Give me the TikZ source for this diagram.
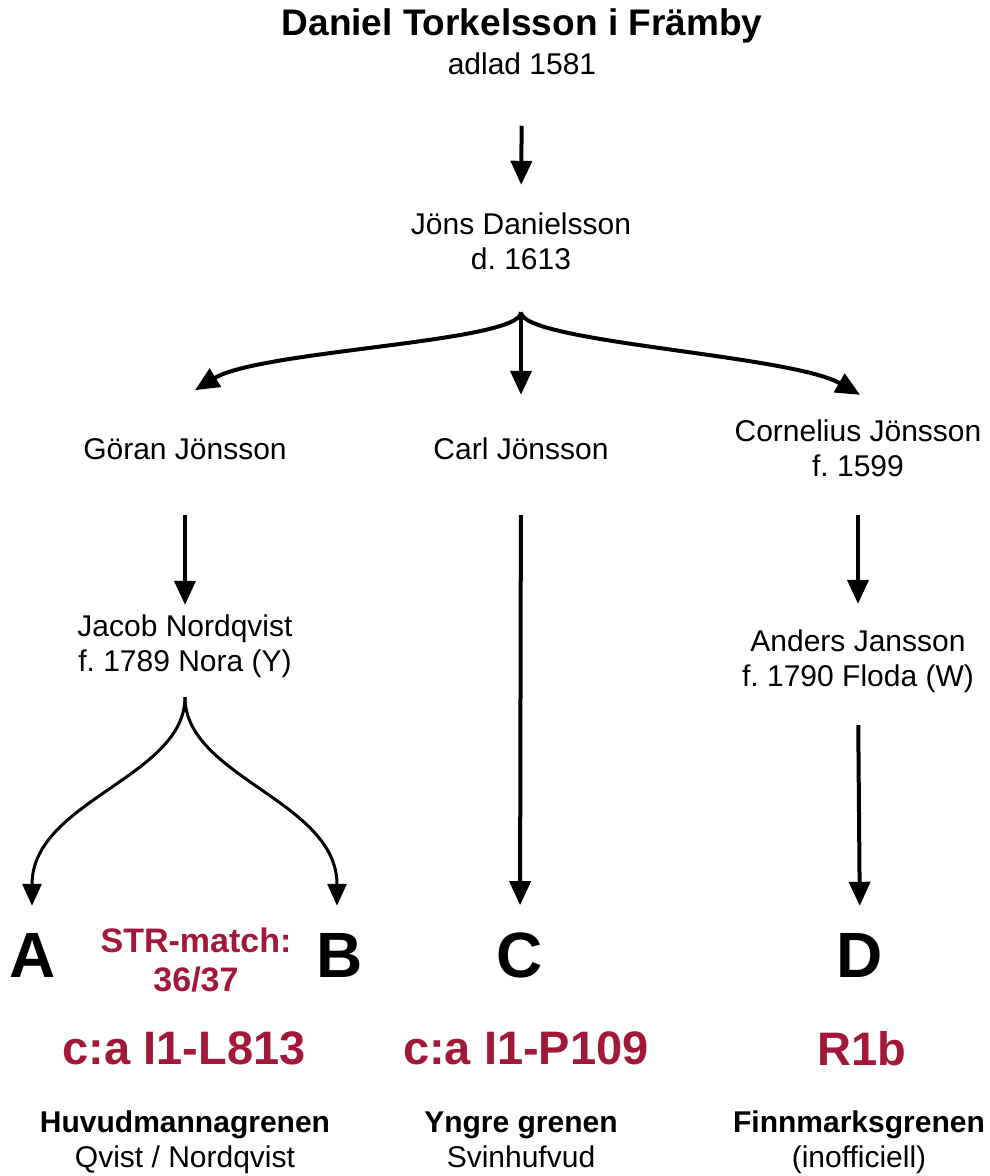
\documentclass[tikz,border=0pt]{standalone}
\usepackage{fontspec}
\setmainfont{Liberation Sans}
\usepackage{xcolor}
\usetikzlibrary{arrows.meta}
\definecolor{hapred}{HTML}{A2183A}
\frenchspacing

\begin{document}
\begin{tikzpicture}[
    x=1pt, y=1pt,
    >={Triangle[length=24pt,width=21pt]},
    person/.style={font=\fontsize{30}{35}\selectfont, align=center, inner sep=0pt},
    letter/.style={font=\fontsize{64}{70}\selectfont\bfseries, inner sep=0pt},
    hapl/.style={font=\fontsize{47}{50}\selectfont\bfseries, text=hapred, inner sep=0pt},
    match/.style={font=\fontsize{34}{39}\selectfont\bfseries, text=hapred, align=center, inner sep=0pt},
    arr/.style={->, line width=4pt},
    thinarr/.style={>={Triangle[length=22pt,width=19pt]}, ->, line width=3pt}
]
\useasboundingbox (0,0) rectangle (989,-1176);

% Generations
\node[person] (daniel) at (522,-41.5) {{\fontsize{37}{39}\selectfont\bfseries Daniel Torkelsson i Främby}\\[4pt]adlad 1581};
\node[person] (jons) at (521,-241.5) {Jöns Danielsson\\d. 1613};
\node[person] (goran) at (185,-449) {Göran Jönsson};
\node[person] (carl) at (521,-449) {Carl Jönsson};
\node[person] (corn) at (858,-448.5) {Cornelius Jönsson\\f. 1599};
\node[person] (jacob) at (185,-646.5) {Jacob Nordqvist\\f. 1789 Nora (Y)};
\node[person] (anders) at (858,-661.5) {Anders Jansson\\f. 1790 Floda (W)};

% Branches
\node[letter] (A) at (33,-955) {A};
\node[letter] (B) at (340,-955) {B};
\node[letter] (C) at (520,-955) {C};
\node[letter] (D) at (860,-955) {D};
\node[match] (str) at (196,-960) {STR-match:\\36/37};

% Haplogroups
\node[hapl] (haplA) at (184,-1048.5) {c:a I1-L813};
\node[hapl] (haplC) at (526,-1048.5) {c:a I1-P109};
\node[hapl] (haplD) at (862,-1048.5) {R1b};

\node[person] (grenA) at (185,-1142.5) {\textbf{Huvudmannagrenen}\\Qvist / Nordqvist};
\node[person] (grenC) at (521,-1139.5) {\textbf{Yngre grenen}\\Svinhufvud};
\node[person] (grenD) at (859,-1142.5) {\textbf{Finnmarksgrenen}\\(inofficiell)};

% Arrows
\draw[arr, shorten <=51pt, shorten >=28pt] (daniel.south) -- (jons.north);
\draw[arr] ([yshift=-42pt]jons.south) -- ([yshift=43pt]carl.north);
\draw[arr] ([yshift=-42pt]jons.south) .. controls +(0,-30) and +(65,40) .. ([xshift=10pt,yshift=48pt]goran.north);
\draw[arr] ([yshift=-42pt]jons.south) .. controls +(0,-30) and +(-70,40) .. ([xshift=2pt,yshift=25pt]corn.north);

\draw[arr, shorten <=55pt, shorten >=10pt] (goran.south) -- (jacob.north);
\draw[arr, shorten <=55pt, shorten >=27pt] (carl.south) -- (C.north);
\draw[arr, shorten <=38pt, shorten >=26pt] (corn.south) -- (anders.north);
\draw[arr, shorten <=32pt, shorten >=27pt] (anders.south) -- (D.north);

\draw[thinarr] ([yshift=-19pt]jacob.south) .. controls +(0,-80) and +(0,105) .. ([xshift=-1pt,yshift=27pt]A.north);
\draw[thinarr] ([yshift=-19pt]jacob.south) .. controls +(0,-80) and +(0,105) .. ([xshift=-3pt,yshift=27pt]B.north);
\end{tikzpicture}
\end{document}
